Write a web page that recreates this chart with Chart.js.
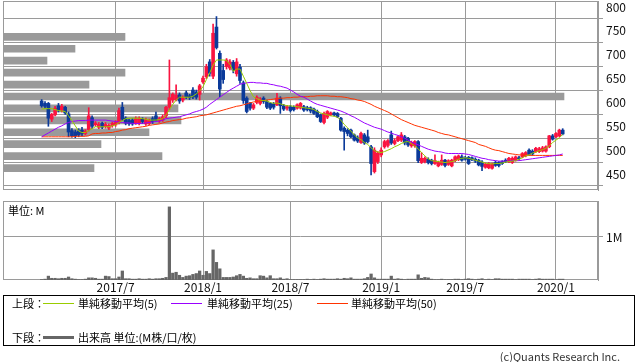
<!DOCTYPE html>
<html><head><meta charset="utf-8">
<script src="https://cdn.jsdelivr.net/npm/chart.js@4.4.1/dist/chart.umd.min.js"></script>
<style>
html,body{margin:0;padding:0;background:#fff;}
body{width:638px;height:362px;position:relative;overflow:hidden;font-family:"Noto Sans CJK JP","Noto Sans",sans-serif;}
canvas{position:absolute;left:0;}
#pc{top:0;}
#vc{top:195px;}
.t{position:absolute;font-size:11px;line-height:12px;color:#000;white-space:nowrap;}
#legend{position:absolute;left:3px;top:295px;width:632px;height:51px;border:1px solid #000;box-sizing:border-box;}
.sw{position:absolute;}
</style></head>
<body>
<canvas id="pc" width="638" height="191"></canvas>
<canvas id="vc" width="638" height="105"></canvas>
<div class="t" style="left:8px;top:204px;">単位: M</div>
<div id="legend"></div>
<div class="t" style="left:12px;top:297px;">上段：</div>
<div class="sw" style="left:43px;top:303px;width:31px;height:1px;background:#99cc00;"></div>
<div class="t" style="left:78px;top:297px;">単純移動平均(5)</div>
<div class="sw" style="left:171px;top:303px;width:31px;height:1px;background:#9900ff;"></div>
<div class="t" style="left:207px;top:297px;">単純移動平均(25)</div>
<div class="sw" style="left:317px;top:303px;width:31px;height:1px;background:#ff3300;"></div>
<div class="t" style="left:351px;top:297px;">単純移動平均(50)</div>
<div class="t" style="left:12px;top:331px;">下段：</div>
<div class="sw" style="left:43px;top:336px;width:31px;height:3px;background:#666;"></div>
<div class="t" style="left:78px;top:331px;">出来高 単位:(M株/口/枚)</div>
<div class="t" style="right:18px;top:350px;color:#333;">(c)Quants Research Inc.</div>
<script>
// ---- categories: weekly buckets ----
const weekStart = [2016, 10, 14]; // 2016-11-14 (Monday)
const weekCount = 177;
const categories = [];
for (let i = 0; i < weekCount; i++) {
  const d = new Date(Date.UTC(weekStart[0], weekStart[1], weekStart[2]) + i * 7 * 86400000);
  categories.push(d.toISOString().slice(0, 10));
}
const firstCandleWeek = '2017-01-30';
const dateTickWeeks = ['2017-07-03','2018-01-01','2018-07-02','2019-01-07','2019-07-01','2020-01-06'];
const dateTickLabels = ['2017/7','2018/1','2018/7','2019/1','2019/7','2020/1'];
const priceTicks = [450,500,550,600,650,700,750,800];
const volumeTicks = [1];

// ---- weekly OHLC ----
const open = [603,598,598,565,574,593,584,590,576,541, 538,540,542,535,543,568,553,548,556,549,
546,551,553,558,590,567,562,563,557,556, 565,555,556,566,572,561,563,572,590,605,
606,616,605,620,614,626,622,617,643,654, 685,655,758,703,667,675,672,684,660,674,
641,609,598,588,600,598,609,602,598,597, 595,609,593,588,591,590,588,588,591,589,
589,586,581,574,558,569,574,578,577,567, 546,542,542,532,526,516,532,528,507,455,
476,490,507,510,532,514,520,521,528,525, 509,509,518,474,476,481,479,472,467,470,
479,470,467,478,480,486,484,485,484,481, 479,475,464,463,462,474,474,476,479,476,
474,479,484,486,488,500,498,497,497,498, 498,507,530,528,530,542];
const high = [606,602,600,577,592,598,596,592,580,545, 542,545,548,543,589,572,560,558,559,558,
555,559,562,588,600,570,565,566,570,570, 568,567,565,570,580,569,574,592,689,620,
637,620,614,624,617,631,626,638,655,680, 690,764,780,708,680,692,690,688,692,680,
645,612,600,598,614,610,612,605,600,600, 619,612,596,594,594,593,597,600,594,592,
591,588,584,576,580,583,580,580,579,569, 549,545,544,534,530,538,535,542,510,505,
497,505,521,522,540,524,530,537,531,527, 519,520,520,495,486,484,481,490,477,490,
481,480,481,488,490,490,487,487,486,484, 481,478,473,474,473,477,476,478,482,485,
486,488,487,495,497,503,501,506,506,508, 509,531,533,537,544,545];
const low = [590,588,550,560,572,580,580,575,528,527, 526,528,530,532,540,545,550,545,545,546,
543,548,550,555,562,553,552,552,554,553, 556,552,553,556,560,558,560,568,585,600,
603,598,601,608,606,608,607,605,640,650, 655,650,712,612,640,670,668,662,655,640,
598,578,584,585,597,595,598,587,585,586, 593,577,583,584,580,582,586,586,581,582,
578,575,568,558,555,566,572,572,568,540, 500,530,526,519,516,514,512,515,448,452,
472,486,504,506,512,511,518,518,511,508, 506,506,474,472,473,471,469,470,465,468,
465,468,465,476,478,477,479,470,478,474, 467,457,462,461,460,466,465,470,474,474,
472,477,480,484,486,489,489,495,495,496, 496,505,521,526,528,532];
const close = [593,592,567,575,588,584,592,578,538,530, 530,532,535,540,572,550,557,554,548,554,
552,556,558,583,565,557,556,555,566,567, 560,564,562,560,562,566,570,590,610,617,
615,603,611,612,610,612,611,635,651,675, 661,745,715,628,648,689,685,668,685,646,
604,581,588,595,611,607,602,590,588,590, 609,593,586,591,583,585,595,598,584,585,
582,577,570,560,577,581,578,574,570,542, 539,535,528,521,519,535,515,518,472,500,
494,500,518,520,515,520,528,532,515,511, 516,518,478,483,483,474,472,478,474,479,
468,478,479,486,488,479,481,472,480,477, 469,466,471,472,471,468,468,472,476,483,
483,486,482,493,495,491,492,504,503,505, 507,530,523,535,542,534];

// ---- moving averages ----
const ma5 = [586,587,587,587,585,583,582,581,572,562, 551,540,537,537,541,545,549,549,549,549,
549,551,553,558,562,566,567,567,567,567, 566,565,563,563,563,564,566,574,585,596,
605,611,611,611,611,613,618,624,633,648, 662,678,689,689,689,688,680,665,670,670,
655,640,625,612,608,605,604,603,600,598, 599,597,595,593,593,592,591,590,589,588,
587,585,581,578,576,574,572,571,569,563, 554,547,540,532,526,522,516,512,505,499,
496,495,497,500,503,507,510,514,517,518, 514,508,503,495,488,482,478,477,476,475,
474,475,476,478,481,483,484,483,481,479, 477,475,473,472,471,472,472,473,475,476,
477,478,481,484,488,490,494,496,499,501, 504,509,516,521,526,533];
const ma25 = [528,532,536,540,544,548,551,555,558,560, 561,562,562,562,563,563,563,563,563,563,
562,561,560,559,558,557,557,556,556,556, 556,557,558,559,560,561,563,566,567,568,
569,570,572,574,576,579,581,583,586,590, 596,601,606,611,616,621,626,630,634,638,
640,641,642,642,641,641,640,640,638,637, 635,634,632,630,626,622,617,613,611,607,
603,599,596,594,592,590,588,586,584,582, 579,576,572,569,565,561,557,554,551,548,
546,544,541,538,536,533,531,528,525,521, 517,514,511,508,505,502,500,498,497,496,
494,493,493,493,493,493,492,491,489,487, 485,483,482,480,479,478,477,477,477,477,
478,478,478,479,480,481,482,483,484,485, 486,487,488,489,490,492];
const ma50 = [528,528,528,528,528,528,528,528,528,528, 529,529,529,529,530,534,535,535,536,536,
537,537,539,540,542,543,545,546,547,548, 549,550,552,553,554,555,557,559,560,562,
563,564,565,567,568,569,570,572,573,574, 576,578,580,582,584,586,588,590,592,593,
595,597,599,601,602,603,604,605,606,607, 608,609,609,610,610,611,611,612,612,612,
613,613,614,614,614,614,613,613,612,612, 611,610,608,607,605,604,602,599,596,592,
589,586,583,580,576,572,568,564,561,558, 555,552,550,548,546,544,542,540,537,535,
533,532,530,528,526,524,522,520,518,516, 512,510,508,505,502,500,499,497,495,493,
492,491,490,490,490,489,489,489,489,489, 489,489,489,489,489,489];

// ---- weekly volume (millions) ----
const volume = [0.01,0.02,0.09,0.04,0.04,0.03,0.04,0.04,0.07,0.03, 0.02,0.01,0.01,0.02,0.05,0.05,0.04,0.02,0.02,0.09,
0.08,0.03,0.03,0.07,0.21,0.03,0.03,0.02,0.02,0.03, 0.02,0.02,0.03,0.02,0.03,0.03,0.04,0.06,1.70,0.16,
0.18,0.11,0.06,0.09,0.10,0.13,0.15,0.21,0.11,0.20, 0.15,0.70,0.41,0.26,0.06,0.06,0.06,0.07,0.10,0.13,
0.09,0.04,0.05,0.03,0.03,0.10,0.09,0.05,0.10,0.03, 0.03,0.05,0.02,0.03,0.01,0.01,0.01,0.01,0.01,0.02,
0.01,0.02,0.01,0.02,0.03,0.02,0.02,0.02,0.03,0.02, 0.04,0.03,0.05,0.02,0.02,0.02,0.03,0.06,0.14,0.05,
0.02,0.02,0.02,0.02,0.09,0.02,0.03,0.02,0.01,0.02, 0.02,0.02,0.12,0.04,0.06,0.05,0.02,0.01,0.01,0.02,
0.01,0.01,0.01,0.02,0.02,0.01,0.02,0.03,0.02,0.01, 0.02,0.03,0.01,0.02,0.01,0.03,0.03,0.02,0.02,0.02,
0.02,0.01,0.02,0.02,0.02,0.02,0.01,0.02,0.03,0.02, 0.02,0.02,0.02,0.01,0.02,0.02];

// ---- volume by price (price band centres, relative volume) ----
const profilePrice = [737.5,712.5,687.5,662.5,637.5,612.5,587.5,562.5,537.5,512.5,487.5,462.5];
const profileVolume = [122,72,44,122,86,561,175,178,146,98,159,91];

// ---- build ----
const FONT = '"Noto Sans CJK JP","Noto Sans",sans-serif';
Chart.defaults.font.family = FONT;
Chart.defaults.font.size = 11;
Chart.defaults.color = '#111';
const RED = '#fa1440', BLUE = '#0b3a9a', GRID = '#9a9a9a';
const start = categories.indexOf(firstCandleWeek);
const place = arr => { const out = new Array(weekCount).fill(null); arr.forEach((v, k) => { out[start + k] = v; }); return out; };
const colors = place(open.map((o, k) => close[k] >= o ? RED : BLUE));
const wickData = place(low.map((l, k) => [l, high[k]]));
const bodyData = place(open.map((o, k) => [o, close[k]]));
const gridIdx = new Map(dateTickWeeks.map((w, k) => [categories.indexOf(w), dateTickLabels[k]]));
const gridColor = ctx => gridIdx.has(ctx.index) ? GRID : 'rgba(0,0,0,0)';
const noPad = s => { s.paddingTop = 0; s.paddingBottom = 0; s.paddingLeft = 0; s.paddingRight = 0; };

const framePlugin = {
  id: 'frame',
  beforeDatasetsDraw(chart) {
    const a = chart.chartArea, c = chart.ctx;
    c.save(); c.strokeStyle = GRID; c.lineWidth = 1;
    c.strokeRect(Math.round(a.left) + 0.5, Math.round(a.top) + 0.5, Math.round(a.right - a.left) - 1, Math.round(a.bottom - a.top) - 1);
    c.restore();
  }
};

new Chart(document.getElementById('pc'), {
  type: 'bar',
  data: {
    labels: categories,
    datasets: [
      { type: 'line', data: place(ma5), borderColor: '#99cc00', borderWidth: 1, pointRadius: 0, order: 0 },
      { type: 'line', data: place(ma25), borderColor: '#9900ff', borderWidth: 1, pointRadius: 0, order: 1 },
      { type: 'line', data: place(ma50), borderColor: '#ff3300', borderWidth: 1, pointRadius: 0, order: 2 },
      { type: 'bar', data: bodyData, backgroundColor: colors, barThickness: 3, grouped: false, order: 3 },
      { type: 'bar', data: wickData, backgroundColor: colors, barThickness: 1, grouped: false, order: 4 },
      { type: 'bar', indexAxis: 'y', xAxisID: 'xp', yAxisID: 'y',
        data: profilePrice.map((p, k) => ({ x: profileVolume[k], y: p })),
        backgroundColor: '#9a9a9a', barThickness: 7, grouped: false, order: 5 }
    ]
  },
  options: {
    responsive: false, animation: false, events: [],
    layout: { padding: { left: 3, top: 1, right: 0, bottom: 1 } },
    plugins: { legend: { display: false }, tooltip: { enabled: false } },
    scales: {
      x: { type: 'category', offset: true,
        grid: { offset: false, drawTicks: false, color: gridColor, lineWidth: 1 },
        border: { display: false },
        ticks: { display: false, autoSkip: false },
        afterFit: s => { s.height = 0; noPad(s); } },
      xp: { type: 'linear', display: false, offset: false, min: 0, max: 595,
        grid: { offset: false } },
      y: { type: 'linear', position: 'right', min: 416.5, max: 812.6, offset: false,
        afterBuildTicks: s => { s.ticks = priceTicks.map(v => ({ value: v })); },
        grid: { color: GRID, lineWidth: 1, drawTicks: true, tickLength: 5, tickColor: GRID },
        border: { display: true, color: GRID },
        ticks: { padding: 3, color: '#111', font: { size: 12 } },
        afterFit: s => { s.width = 40; noPad(s); } }
    }
  },
  plugins: [framePlugin]
});

new Chart(document.getElementById('vc'), {
  type: 'bar',
  data: {
    labels: categories,
    datasets: [{ data: place(volume), backgroundColor: '#666666', barThickness: 2.6 }]
  },
  options: {
    responsive: false, animation: false, events: [],
    layout: { padding: { left: 3, top: 6, right: 0, bottom: 0 } },
    plugins: { legend: { display: false }, tooltip: { enabled: false } },
    scales: {
      x: { type: 'category', offset: true,
        grid: { offset: false, drawTicks: false, color: gridColor, lineWidth: 1 },
        border: { display: false },
        ticks: { autoSkip: false, maxRotation: 0, minRotation: 0, padding: 0, color: '#111', font: { size: 12 },
          callback: (v, i) => gridIdx.get(i) || '' },
        afterFit: s => { s.height = 20; noPad(s); } },
      y: { type: 'linear', position: 'right', min: 0, max: 1.837,
        afterBuildTicks: s => { s.ticks = volumeTicks.map(v => ({ value: v })); },
        grid: { color: GRID, lineWidth: 1, drawTicks: true, tickLength: 5, tickColor: GRID },
        border: { display: true, color: GRID },
        ticks: { padding: 3, color: '#111', font: { size: 12 }, callback: v => v + 'M' },
        afterFit: s => { s.width = 40; noPad(s); } }
    }
  },
  plugins: [framePlugin]
});
</script>
</body></html>
